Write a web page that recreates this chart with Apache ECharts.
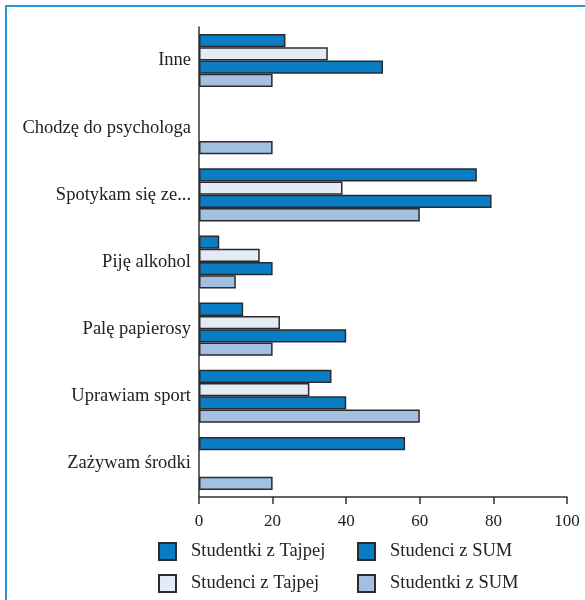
<!DOCTYPE html>
<html>
<head>
<meta charset="utf-8">
<script src="https://cdn.jsdelivr.net/npm/echarts@6/dist/echarts.min.js"></script>
<style>
html,body{margin:0;padding:0;background:#fff;}
#chart{width:585px;height:600px;}
</style>
</head>
<body>
<div id="chart"></div>
<script>
// kategorie (od góry)
var categories = ['Inne', 'Chodzę do psychologa', 'Spotykam się ze...', 'Piję alkohol', 'Palę papierosy', 'Uprawiam sport', 'Zażywam środki'];
// wartości w % (null = brak słupka)
var studentkiTajpej = [23.5, null, 75.5, 5.5, 12, 36, 56];
var studenciTajpej = [35, null, 39, 16.5, 22, 30, null];
var studenciSUM = [50, null, 79.5, 20, 40, 40, null];
var studentkiSUM = [20, 20, 60, 10, 20, 60, 20];
var xTicks = [0, 20, 40, 60, 80, 100];

var serif = 'Liberation Serif';
var dark = '#0a7cc4', light = '#e3ebf7', mid = '#a3bfe3';

function bar(name, data, color) {
	return {
		name: name,
		type: 'bar',
		data: data,
		barGap: 0,
		barCategoryGap: '21%',
		itemStyle: {color: color, borderColor: '#2b2b2b', borderWidth: 1.5}
	};
}

//legenda w dwóch kolumnach
function legendCol(x, names) {
	return {
		orient: 'vertical',
		left: x, top: 542,
		padding: 0,
		itemWidth: 17, itemHeight: 17, itemGap: 13,
		icon: 'rect',
		data: names,
		textStyle: {fontFamily: serif, fontSize: 18.5, lineHeight: 17, color: '#222', padding: [0, 0, 0, 10]}
	};
}

var chart = echarts.init(document.getElementById('chart'));
var option = {
	animation: false,
	grid: {left: 199, right: 18, top: 27, bottom: 103},
	xAxis: {
		type: 'value',
		min: xTicks[0],
		max: xTicks[xTicks.length - 1],
		interval: 20,
		splitLine: {show: false},
		axisLine: {show: true, lineStyle: {color: '#333', width: 1.5}},
		axisTick: {show: true, length: 7, lineStyle: {color: '#333', width: 1.5}},
		axisLabel: {fontFamily: serif, fontSize: 17, color: '#222', margin: 16}
	},
	yAxis: {
		type: 'category',
		inverse: true,
		data: categories,
		axisLine: {lineStyle: {color: '#333', width: 1.5}},
		axisTick: {length: 10, lineStyle: {color: '#333', width: 1.5}},
		axisLabel: {fontFamily: serif, fontSize: 18.5, color: '#222', margin: 8}
	},
	legend: [
		legendCol(158, ['Studentki z Tajpej', 'Studenci z Tajpej']),
		legendCol(357, ['Studenci z SUM', 'Studentki z SUM'])
	],
	graphic: [{
		type: 'polyline',
		shape: {points: [[6, 600], [6, 6], [585, 6]]},
		style: {stroke: '#2b95db', lineWidth: 2, fill: null}
	}],
	series: [
		bar('Studentki z Tajpej', studentkiTajpej, dark),
		bar('Studenci z Tajpej', studenciTajpej, light),
		bar('Studenci z SUM', studenciSUM, dark),
		bar('Studentki z SUM', studentkiSUM, mid)
	]
};
chart.setOption(option);
</script>
</body>
</html>
